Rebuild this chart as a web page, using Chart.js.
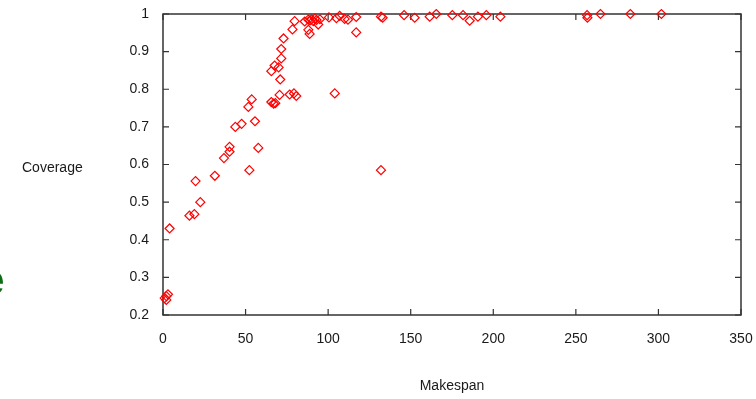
<!DOCTYPE html>
<html>
<head>
<meta charset="utf-8">
<script src="https://cdn.jsdelivr.net/npm/chart.js@4.4.1/dist/chart.umd.min.js"></script>
<style>
  body { margin: 0; background: #fff; }
  #wrap { position: relative; width: 756px; height: 399px; overflow: hidden; }
  #ylabel { position: absolute; left: 22px; top: 159px; font: 14px "Liberation Sans", Arial, sans-serif; color: #1a1a1a; }
  #cut { position: absolute; left: -20px; top: 255px; font: bold 44px "Liberation Sans", Arial, sans-serif; color: #0b6e12; }
</style>
</head>
<body>
<div id="wrap">
  <canvas id="scatterChart" width="756" height="399"></canvas>
  <div id="ylabel">Coverage</div>
  <div id="cut">e</div>
</div>
<script>
// axis ticks
const xTicks = [0, 50, 100, 150, 200, 250, 300, 350];
const yTicks = [0.2, 0.3, 0.4, 0.5, 0.6, 0.7, 0.8, 0.9, 1];

// makespan / coverage pairs
const makespan = [
    1, 2, 2, 3, 4, 16, 19, 22.6, 19.7, 31.4, 52.3, 36.9, 40.3, 40.3, 57.7,
    43.8, 47.6, 55.7, 51.7, 53.7, 65.6, 67, 68, 70.6, 76.7, 79.3, 80.7, 104, 132,
    71, 65.6, 67.6, 70, 71.6, 71.6, 73, 78.4, 79.7, 85.8, 88, 88.8,
    88, 89, 90, 91, 92, 93, 94, 95, 100.5, 105, 107, 110, 112, 117, 117,
    132, 133, 146, 152.4, 161.5, 165.5, 175.2, 181.7, 185.7, 190.7, 195.8, 204.3,
    256.8, 257, 264.9, 283, 301.8
];
const coverage = [
    0.245, 0.25, 0.24, 0.255, 0.43, 0.464, 0.468, 0.50, 0.556, 0.57, 0.585, 0.617, 0.634, 0.647, 0.644,
    0.700, 0.708, 0.715, 0.753, 0.773, 0.766, 0.762, 0.763, 0.785, 0.786, 0.789, 0.782, 0.789, 0.585,
    0.826, 0.848, 0.863, 0.858, 0.882, 0.907, 0.935, 0.959, 0.981, 0.98, 0.958, 0.947,
    0.985, 0.983, 0.986, 0.981, 0.988, 0.984, 0.972, 0.986, 0.991, 0.989, 0.995, 0.987, 0.985, 0.992, 0.951,
    0.993, 0.99, 0.997, 0.99, 0.993, 1.0, 0.997, 0.997, 0.982, 0.993, 0.997, 0.993,
    0.997, 0.99, 1.0, 1.0, 1.0
];

const points = makespan.map((m, i) => ({ x: m, y: coverage[i] }));

// box round the plot with small inward ticks on all four sides
const framePlugin = {
    id: 'frame',
    beforeDatasetsDraw(chart) {
        const { ctx, chartArea: a, scales: { x, y } } = chart;
        ctx.save();
        ctx.strokeStyle = '#333';
        ctx.lineWidth = 1.5;
        ctx.strokeRect(a.left, a.top, a.right - a.left, a.bottom - a.top);
        ctx.lineWidth = 1.2;
        ctx.beginPath();
        xTicks.forEach(v => {
            const px = x.getPixelForValue(v);
            ctx.moveTo(px, a.bottom); ctx.lineTo(px, a.bottom - 6);
            ctx.moveTo(px, a.top); ctx.lineTo(px, a.top + 6);
        });
        yTicks.forEach(v => {
            const py = y.getPixelForValue(v);
            ctx.moveTo(a.left, py); ctx.lineTo(a.left + 6, py);
            ctx.moveTo(a.right, py); ctx.lineTo(a.right - 6, py);
        });
        ctx.stroke();
        ctx.restore();
    }
};

const font = { family: '"Liberation Sans", Arial, sans-serif', size: 14 };

const ctx = document.getElementById('scatterChart').getContext('2d');
const scatterChart = new Chart(ctx, {
    type: 'scatter',
    data: {
        datasets: [{
            label: 'Coverage',
            data: points,
            pointStyle: 'rectRot',
            pointRadius: 4.5,
            borderColor: 'rgb(255, 0, 0)',
            backgroundColor: 'rgba(255, 255, 255, 0)',
            borderWidth: 1.2,
            clip: false
        }]
    },
    options: {
        responsive: false,
        animation: false,
        layout: { padding: { left: 0, right: 15, top: 14, bottom: 0 } },
        plugins: { legend: { display: false }, tooltip: { enabled: false } },
        scales: {
            x: {
                type: 'linear',
                min: 0,
                max: 350,
                afterBuildTicks: s => { s.ticks = xTicks.map(v => ({ value: v })); },
                afterFit: s => { s.height = 84; s.paddingLeft = 0; s.paddingRight = 0; },
                grid: { display: false, drawTicks: false },
                border: { display: false },
                ticks: { padding: 16, color: '#1a1a1a', font: font, maxRotation: 0 },
                title: { display: true, text: 'Makespan', color: '#1a1a1a', font: font, padding: { top: 0, bottom: 4 } }
            },
            y: {
                type: 'linear',
                min: 0.2,
                max: 1,
                afterBuildTicks: s => { s.ticks = yTicks.map(v => ({ value: v })); },
                afterFit: s => { s.width = 163; s.paddingTop = 0; s.paddingBottom = 0; },
                grid: { display: false, drawTicks: false },
                border: { display: false },
                ticks: {
                    padding: 14,
                    color: '#1a1a1a',
                    font: font,
                    callback: v => String(Number(v.toFixed(1)))
                }
            }
        }
    },
    plugins: [framePlugin]
});
</script>
</body>
</html>
